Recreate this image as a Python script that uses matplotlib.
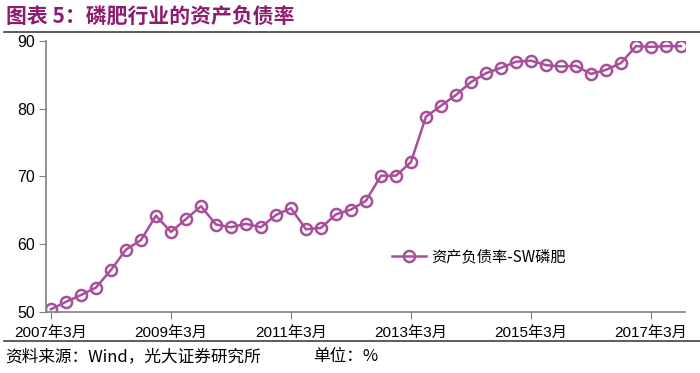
import matplotlib
matplotlib.use("Agg")
import matplotlib.pyplot as plt
from matplotlib.lines import Line2D

plt.rcParams['font.family'] = ['Liberation Sans', 'Noto Sans CJK SC', 'DejaVu Sans']

# quarterly, 2007-03 .. 2017-09
quarters = [f"{y}年{m}月" for y in range(2007, 2018) for m in (3, 6, 9, 12)][:43]
debt_ratio = [
    50.4, 51.5, 52.5, 53.6, 56.2, 59.2, 60.6, 64.2, 61.8, 63.7,
    65.6, 62.9, 62.5, 63.0, 62.5, 64.3, 65.3, 62.2, 62.4, 64.4,
    65.1, 66.4, 70.1, 70.1, 72.1, 78.8, 80.4, 82.0, 83.9, 85.2,
    86.0, 86.9, 87.05, 86.4, 86.2, 86.3, 85.1, 85.7, 86.7, 89.2,
    89.1, 89.2, 89.2,
]
tick_idx = [0, 8, 16, 24, 32, 40]
tick_labels = [quarters[i] for i in tick_idx]

line_color = "#A84F99"
title_color = "#8C1C6E"
cjk = ['Noto Sans CJK SC', 'DejaVu Sans']

fig = plt.figure(figsize=(7, 3.73), dpi=100)
ax = fig.add_axes([46 / 700, 1 - 312 / 373, (685 - 46) / 700, (312 - 40.7) / 373])

x = list(range(len(debt_ratio)))
ax.plot(x, debt_ratio, color=line_color, lw=1.8, marker="o", ms=8,
        mfc="none", mec=line_color, mew=1.8, label="资产负债率-SW磷肥")

ax.set_xlim(-0.33, 42.27)
ax.set_ylim(50, 90)
ax.set_yticks([50, 60, 70, 80, 90])
ax.set_xticks(tick_idx)
ax.set_xticklabels(tick_labels, fontsize=11, family=['Liberation Sans', 'Noto Sans CJK SC'])
ax.tick_params(axis="y", labelsize=11.5, length=5, color="#808080", pad=3)
ax.tick_params(axis="x", length=5, color="#808080", pad=5)
for s in ("top", "right"):
    ax.spines[s].set_visible(False)
for s in ("left", "bottom"):
    ax.spines[s].set_color("#808080")
    ax.spines[s].set_linewidth(1.2)

handle = Line2D([], [], color=line_color, lw=1.8, marker="o", ms=8,
                mfc="none", mec=line_color, mew=1.8)
ax.legend([handle], ["资产负债率-SW磷肥"], loc="upper left",
          bbox_to_anchor=(0.52, 0.287), frameon=False,
          prop={"family": cjk, "size": 11}, handlelength=2.2, handletextpad=0.4)

fig.text(0.008, 1 - 16 / 373, "图表 5：磷肥行业的资产负债率", color=title_color,
         fontsize=15, fontweight="bold", family=cjk, va="center")
fig.add_artist(Line2D([0.005, 1.0], [1 - 32 / 373, 1 - 32 / 373], color="#404040", lw=1.2))
fig.add_artist(Line2D([0.005, 1.0], [1 - 341 / 373, 1 - 341 / 373], color="#404040", lw=1.2))
fig.text(0.008, 1 - 357 / 373, "资料来源：Wind，光大证券研究所", fontsize=12, family=cjk, va="center")
fig.text(0.448, 1 - 357 / 373, "单位：%", fontsize=12, family=cjk, va="center")

fig.savefig("out.png", dpi=100)
